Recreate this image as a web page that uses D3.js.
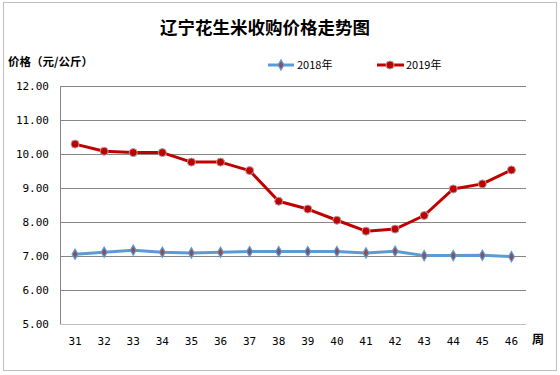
<!DOCTYPE html>
<html>
<head>
<meta charset="utf-8">
<script src="https://cdn.jsdelivr.net/npm/d3@7"></script>
<style>
  body { margin: 0; background: #fff; }
  svg { display: block; }
</style>
</head>
<body>
<div id="chart"></div>
<script>
// data
const weeks = ["31", "32", "33", "34", "35", "36", "37", "38", "39", "40", "41", "42", "43", "44", "45", "46"];
const price2018 = [7.06, 7.12, 7.18, 7.12, 7.10, 7.12, 7.14, 7.14, 7.14, 7.14, 7.10, 7.15, 7.02, 7.02, 7.03, 6.99];
const price2019 = [10.30, 10.09, 10.05, 10.05, 9.77, 9.77, 9.52, 8.62, 8.39, 8.06, 7.74, 7.80, 8.20, 8.98, 9.13, 9.54];
const yTicks = [5, 6, 7, 8, 9, 10, 11, 12];

const width = 560, height = 375;
const tickFont = "'DejaVu Sans Mono', 'Liberation Mono', monospace";
const cjkFont = "'Noto Sans CJK SC', sans-serif";

let svg = d3.select("#chart")
    .append("svg")
    .attr("width", width)
    .attr("height", height);

// outer frame
svg.append("rect")
    .attr("x", 3.5).attr("y", 2.5)
    .attr("width", 553).attr("height", 368)
    .attr("fill", "#fff")
    .attr("stroke", "#bfbfbf");

let x = d3.scaleBand().domain(weeks).range([60.5, 526]);
let y = d3.scaleLinear().domain([5, 12]).range([324.3, 86.3]);

// gridlines
svg.append("g")
    .selectAll("line")
    .data(yTicks.slice(1))
    .join("line")
    .attr("x1", 60.5).attr("x2", 526)
    .attr("y1", d => Math.round(y(d)) + 0.5)
    .attr("y2", d => Math.round(y(d)) + 0.5)
    .attr("stroke", "#868686");

// bottom axis line
svg.append("line")
    .attr("x1", 60.5).attr("x2", 526)
    .attr("y1", Math.round(y(5)) + 0.5).attr("y2", Math.round(y(5)) + 0.5)
    .attr("stroke", "#bfbfbf");

// left axis line
svg.append("line")
    .attr("x1", 60.5).attr("x2", 60.5)
    .attr("y1", y(12)).attr("y2", y(5))
    .attr("stroke", "#868686");

// y tick labels
svg.append("g")
    .selectAll("text")
    .data(yTicks)
    .join("text")
    .attr("x", 49)
    .attr("y", d => y(d) + 4)
    .attr("text-anchor", "end")
    .attr("font-family", tickFont)
    .attr("font-size", 11)
    .attr("fill", "#000")
    .text(d => d3.format(".2f")(d));

// x tick labels
svg.append("g")
    .selectAll("text")
    .data(weeks)
    .join("text")
    .attr("x", d => x(d) + x.bandwidth() / 2)
    .attr("y", 345)
    .attr("text-anchor", "middle")
    .attr("font-family", tickFont)
    .attr("font-size", 11)
    .attr("fill", "#000")
    .text(d => d);

svg.append("text")
    .attr("x", 532).attr("y", 344)
    .attr("font-family", cjkFont)
    .attr("font-weight", "bold")
    .attr("font-size", 12)
    .text("周");

// title
svg.append("text")
    .attr("x", 265).attr("y", 34)
    .attr("text-anchor", "middle")
    .attr("font-family", cjkFont)
    .attr("font-weight", "bold")
    .attr("font-size", 17.5)
    .text("辽宁花生米收购价格走势图");

svg.append("text")
    .attr("x", 8).attr("y", 66)
    .attr("font-family", cjkFont)
    .attr("font-weight", "bold")
    .attr("font-size", 11.5)
    .text("价格（元/公斤）");

let line = d3.line()
    .x((d, i) => x(weeks[i]) + x.bandwidth() / 2)
    .y(d => y(d));

// 2018 series
svg.append("path")
    .datum(price2018)
    .attr("d", line)
    .attr("fill", "none")
    .attr("stroke", "#5b9bd5")
    .attr("stroke-width", 3)
    .attr("stroke-linejoin", "round");

let diamond = d3.symbol().type(d3.symbolDiamond).size(30);

svg.append("g")
    .selectAll("path")
    .data(price2018)
    .join("path")
    .attr("d", diamond)
    .attr("transform", (d, i) => `translate(${x(weeks[i]) + x.bandwidth() / 2},${y(d)})`)
    .attr("fill", "#8b4f5a")
    .attr("stroke", "#5b9bd5")
    .attr("stroke-width", 1.2);

// 2019 series
svg.append("path")
    .datum(price2019)
    .attr("d", line)
    .attr("fill", "none")
    .attr("stroke", "#c00000")
    .attr("stroke-width", 3)
    .attr("stroke-linejoin", "round");

svg.append("g")
    .selectAll("circle")
    .data(price2019)
    .join("circle")
    .attr("cx", (d, i) => x(weeks[i]) + x.bandwidth() / 2)
    .attr("cy", d => y(d))
    .attr("r", 4)
    .attr("fill", "#c00000")
    .attr("stroke", "#b0a0a0")
    .attr("stroke-width", 1);

// legend
let legend = svg.append("g");

legend.append("line")
    .attr("x1", 268).attr("x2", 294)
    .attr("y1", 65).attr("y2", 65)
    .attr("stroke", "#5b9bd5").attr("stroke-width", 3);
legend.append("path")
    .attr("d", diamond)
    .attr("transform", "translate(281,65)")
    .attr("fill", "#8b4f5a")
    .attr("stroke", "#5b9bd5")
    .attr("stroke-width", 1.2);
legend.append("text")
    .attr("x", 297).attr("y", 69)
    .attr("font-family", cjkFont)
    .attr("font-size", 11)
    .text("2018年");

legend.append("line")
    .attr("x1", 377).attr("x2", 404)
    .attr("y1", 65).attr("y2", 65)
    .attr("stroke", "#c00000").attr("stroke-width", 3);
legend.append("circle")
    .attr("cx", 390).attr("cy", 65).attr("r", 4)
    .attr("fill", "#c00000")
    .attr("stroke", "#b0a0a0");
legend.append("text")
    .attr("x", 406).attr("y", 69)
    .attr("font-family", cjkFont)
    .attr("font-size", 11)
    .text("2019年");
</script>
</body>
</html>
